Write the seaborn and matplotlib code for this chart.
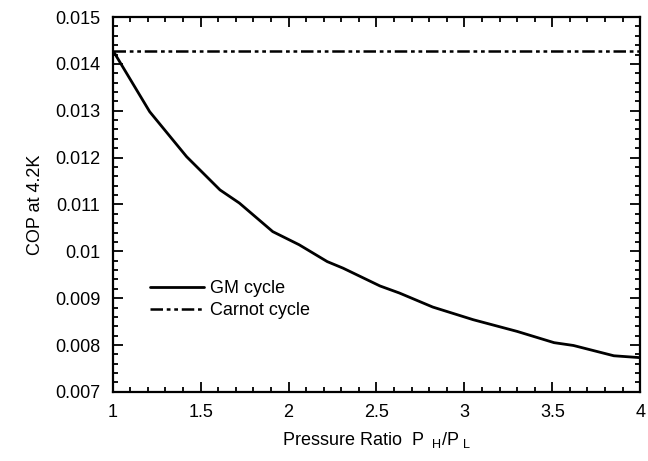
import numpy as np
import pandas as pd
import seaborn as sns
import matplotlib.pyplot as plt
from matplotlib.ticker import MultipleLocator

# values
ratio = [1.0, 1.01, 1.21, 1.42, 1.61, 1.72, 1.91, 2.06, 2.22, 2.31, 2.52, 2.63,
         2.82, 3.05, 3.30, 3.51, 3.62, 3.85, 4.0]
cop_gm = [0.01425, 0.01423, 0.01298, 0.01202, 0.01131, 0.01103, 0.01042, 0.01014,
          0.00978, 0.00964, 0.00926, 0.00911, 0.00881, 0.00854, 0.00829, 0.00805,
          0.00799, 0.00777, 0.00773]
carnot_x = [1.0, 4.0]
cop_carnot = [0.01427, 0.01427]

df_gm = pd.DataFrame({"ratio": ratio, "cop": cop_gm})
df_carnot = pd.DataFrame({"ratio": carnot_x, "cop": cop_carnot})

sns.set_style("ticks")
plt.rcParams["font.family"] = ["Liberation Sans", "DejaVu Sans"]
plt.rcParams["mathtext.default"] = "regular"
for k in ["text.color", "axes.labelcolor", "xtick.color", "ytick.color", "axes.edgecolor"]:
    plt.rcParams[k] = "black"

fig = plt.figure(figsize=(6.48, 4.61), dpi=100)
ax = fig.add_axes([0.174, 0.150, 0.814, 0.813])

sns.lineplot(data=df_gm, x="ratio", y="cop", ax=ax, color="black",
             linewidth=2.0, label="GM cycle")
sns.lineplot(data=df_carnot, x="ratio", y="cop", ax=ax, color="black",
             linewidth=1.8, linestyle=(0, (5, 1.5, 1.5, 1.5, 1.5, 1.5)),
             label="Carnot cycle")

ax.set_xlim(1, 4)
ax.set_ylim(0.007, 0.015)
ax.xaxis.set_minor_locator(MultipleLocator(0.1))
ax.yaxis.set_minor_locator(MultipleLocator(0.0002))
ax.set_xticks([1, 1.5, 2, 2.5, 3, 3.5, 4])
ax.set_xticklabels(["1", "1.5", "2", "2.5", "3", "3.5", "4"])
ax.set_yticks(np.arange(0.007, 0.0151, 0.001))
ax.set_yticklabels(["0.007", "0.008", "0.009", "0.01", "0.011", "0.012",
                    "0.013", "0.014", "0.015"])
ax.tick_params(which="both", direction="in", top=True, right=True,
               width=1.3, labelsize=13, pad=9)
ax.tick_params(which="major", length=7)
ax.tick_params(which="minor", length=3.5)
for s in ax.spines.values():
    s.set_linewidth(1.6)

ax.set_xlabel(r"Pressure Ratio  P$_{\ \ H}$/P$_{\ L}$", fontsize=13, labelpad=6)
ax.set_ylabel("COP at 4.2K", fontsize=13, labelpad=8)

ax.legend(loc="lower left", bbox_to_anchor=(0.04, 0.15), frameon=False,
          fontsize=13, handlelength=3.0, handletextpad=0.3, labelspacing=0.3)

fig.savefig("out.png", dpi=100)
